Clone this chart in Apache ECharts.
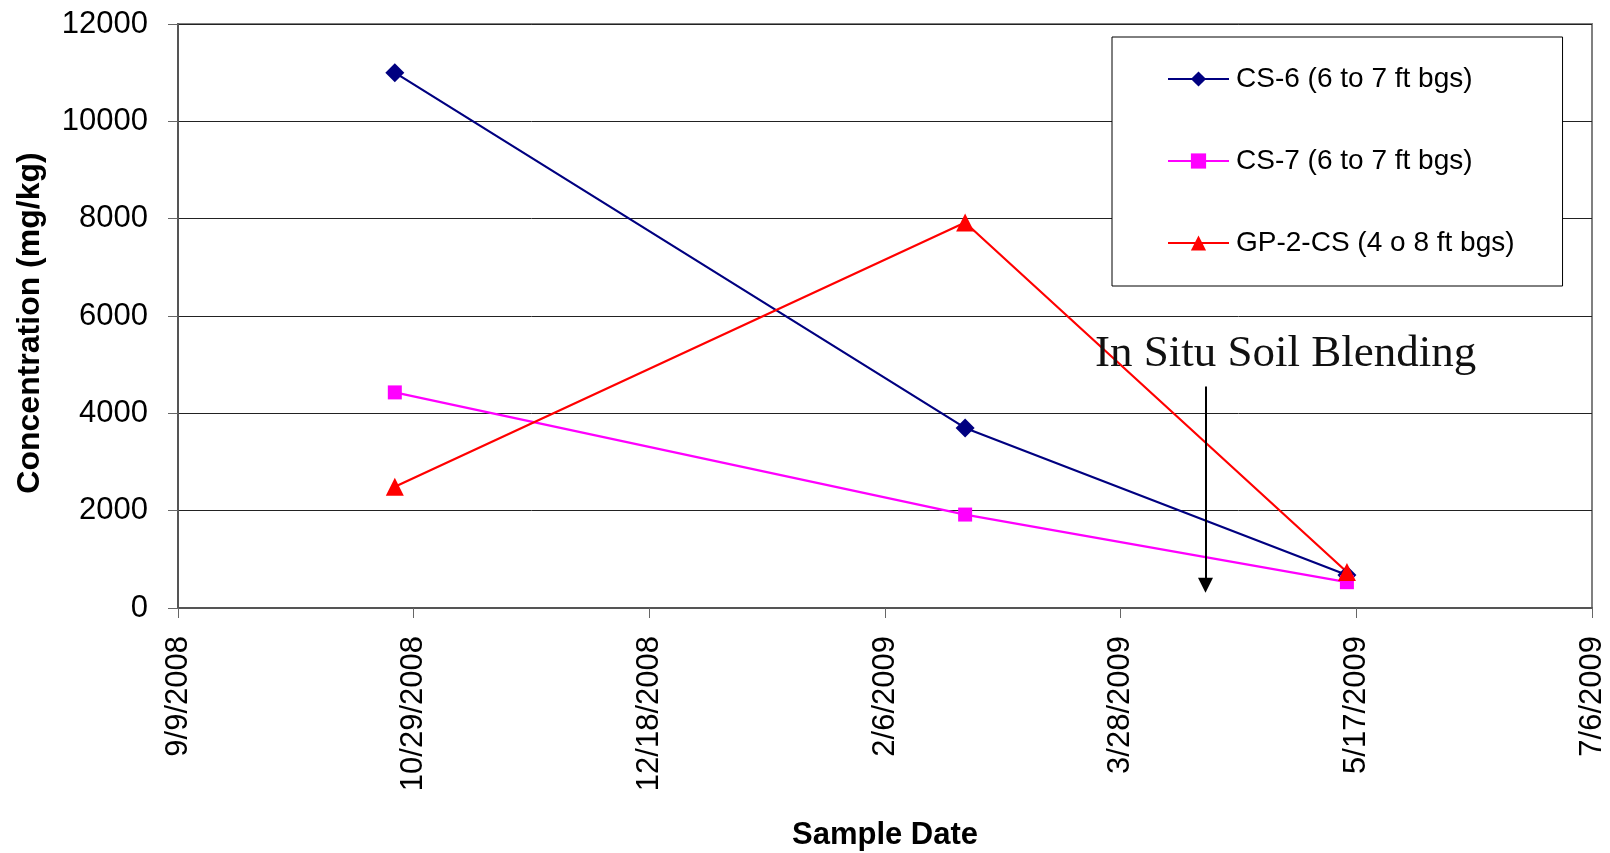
<!DOCTYPE html>
<html>
<head>
<meta charset="utf-8">
<script src="https://cdn.jsdelivr.net/npm/echarts@6/dist/echarts.min.js"></script>
<style>
html,body{margin:0;padding:0;background:#fff;}
#chart{width:1610px;height:853px;}
</style>
</head>
<body>
<div id="chart"></div>
<script>
// ---- data ----
const sampleDates = ['2008-10-25', '2009-02-23', '2009-05-15'];
const cs6 = [11000, 3700, 680];
const cs7 = [4430, 1920, 530];
const gp2 = [2490, 7920, 740];
const seriesNames = ['CS-6 (6 to 7 ft bgs)', 'CS-7 (6 to 7 ft bgs)', 'GP-2-CS (4 o 8 ft bgs)'];
const xMinDate = '2008-09-09';
const xMaxDate = '2009-07-06';
const xStepDays = 50;
const yMin = 0, yMax = 12000, yStep = 2000;
const annotationText = 'In Situ Soil Blending';
const arrowDate = '2009-04-15';
const arrowFrom = 4550, arrowTo = 470;
const annotationDate = '2009-05-02';
const annotationValue = 5215;

// Excel serial day numbers (9/9/2008 = 39700)
const EPOCH = Date.UTC(1899, 11, 30);
function serial(s) { const p = s.split('-').map(Number); return Math.round((Date.UTC(p[0], p[1]-1, p[2]) - EPOCH) / 86400000); }
function fmt(v) { const d = new Date(EPOCH + Math.round(v) * 86400000); return (d.getUTCMonth()+1) + '/' + d.getUTCDate() + '/' + d.getUTCFullYear(); }

const xs = sampleDates.map(serial);
const pairs = arr => arr.map((v, i) => [xs[i], v]);

const chart = echarts.init(document.getElementById('chart'));
const FONT = '"Liberation Sans", Arial, sans-serif';
chart.setOption({
  animation: false,
  backgroundColor: '#fff',
  grid: { left: 178, right: 18, top: 24, bottom: 245, show: true, borderColor: '#808080', borderWidth: 2,
          containLabel: false, outerBoundsMode: 'none' },
  legend: {
    orient: 'vertical', left: 1112, top: 37,
    padding: [27, 48, 28, 55],
    itemGap: 52, itemWidth: 61, itemHeight: 19,
    borderColor: '#000', borderWidth: 1, backgroundColor: '#fff',
    textStyle: { fontFamily: FONT, fontSize: 28, color: '#000', lineHeight: 30, padding: [0,0,0,2] },
    data: seriesNames
  },
  xAxis: {
    type: 'value', min: serial(xMinDate), max: serial(xMaxDate), interval: xStepDays,
    name: 'Sample Date', nameLocation: 'middle', nameGap: 212,
    nameTextStyle: { fontFamily: FONT, fontSize: 31, fontWeight: 'bold', color: '#000' },
    axisLine: { show: true, lineStyle: { color: '#555', width: 2 } },
    axisTick: { show: true, length: 10, lineStyle: { color: '#666', width: 1 } },
    axisLabel: { rotate: 90, margin: 28, fontFamily: FONT, fontSize: 31, color: '#000', formatter: fmt },
    splitLine: { show: false }
  },
  yAxis: {
    type: 'value', min: yMin, max: yMax, interval: yStep,
    name: 'Concentration (mg/kg)', nameLocation: 'middle', nameGap: 132,
    nameTextStyle: { fontFamily: FONT, fontSize: 32, fontWeight: 'bold', color: '#000', padding: [0, 14, 0, 0] },
    axisLine: { show: true, lineStyle: { color: '#555', width: 2 } },
    axisTick: { show: true, inside: false, length: 10, lineStyle: { color: '#666', width: 1 } },
    axisLabel: { margin: 30, fontFamily: FONT, fontSize: 31, color: '#000', formatter: v => String(v) },
    splitLine: { show: true, lineStyle: { color: '#222', width: 1 } }
  },
  series: [
    { name: seriesNames[0], type: 'line', data: pairs(cs6), symbol: 'diamond', symbolSize: 19,
      lineStyle: { color: '#000080', width: 2.2 }, itemStyle: { color: '#000080' }, z: 3 },
    { name: seriesNames[1], type: 'line', data: pairs(cs7), symbol: 'rect', symbolSize: 14,
      lineStyle: { color: '#FF00FF', width: 2.2 }, itemStyle: { color: '#FF00FF' }, z: 3 },
    { name: seriesNames[2], type: 'line', data: pairs(gp2), symbol: 'triangle', symbolSize: 18,
      lineStyle: { color: '#FF0000', width: 2.2 }, itemStyle: { color: '#FF0000' }, z: 3,
      markLine: {
        silent: true, symbol: ['none', 'triangle'], symbolSize: [15, 15], symbolRotate: 180,
        lineStyle: { color: '#000', width: 2, type: 'solid' },
        label: { show: false },
        data: [[ { coord: [serial(arrowDate), arrowFrom] }, { coord: [serial(arrowDate), arrowTo] } ]]
      },
      markPoint: {
        silent: true, symbol: 'circle', symbolSize: 0,
        label: { show: true, position: 'inside', formatter: annotationText,
          fontFamily: '"Liberation Serif", "Times New Roman", serif', fontSize: 45, color: '#111' },
        data: [ { coord: [serial(annotationDate), annotationValue] } ]
      }
    }
  ]
});
</script>
</body>
</html>
